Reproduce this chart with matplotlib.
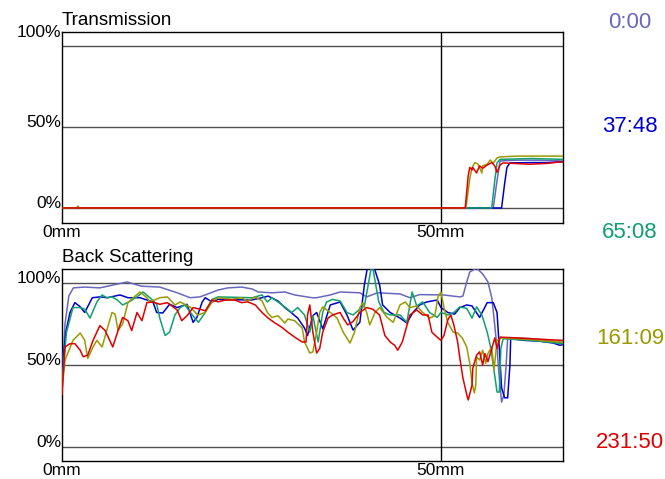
import numpy as np
import matplotlib
matplotlib.use("Agg")
import matplotlib.pyplot as plt

plt.rcParams['font.family'] = ['Liberation Sans', 'DejaVu Sans']

# tiempos de medida y sus colores
etiquetas = ['0:00', '37:48', '65:08', '161:09', '231:50']
colores = ['#6868bc', '#0000cc', '#10a070', '#9a9a00', '#e00000']

# Transmision: posicion (mm) y porcentaje
tr_x_0000 = [0, 56.9, 57.4, 57.8, 60, 63, 66.1]
tr_y_0000 = [0, 0, 17, 29, 29.5, 29.5, 29]
tr_x_3748 = [0, 58.0, 58.4, 58.7, 59.1, 62, 64, 66.1]
tr_y_3748 = [0, 0, 15, 25, 27.8, 28, 28, 28.5]
tr_x_6508 = [0, 56.7, 57.1, 57.4, 57.8, 62, 66.1]
tr_y_6508 = [0, 0, 17, 27.8, 30, 30.5, 30]
tr_x_16109 = [0, 1.9, 2.1, 2.3, 53.3, 53.8, 54.1, 54.5, 54.9, 55.4, 55.5, 56.1,
              56.5, 56.9, 57.4, 57.8, 60, 66.1]
tr_y_16109 = [0, 0, 1.2, 0, 0, 18, 25, 28, 27, 21.6, 26, 27,
              29.6, 27.5, 30.9, 31.5, 32, 32]
tr_x_23150 = [0, 53.2, 53.6, 53.8, 54.1, 54.2, 54.7, 55.1, 55.5, 56.1, 56.7,
              57.1, 57.4, 57.8, 58.2, 61.7, 64, 65.7, 66.1]
tr_y_23150 = [0, 0, 20, 25, 23.5, 25, 21.6, 26, 24.5, 26.5, 28,
              26, 22, 26.5, 27.8, 27, 27.5, 28.4, 28.4]

# Back Scattering: posicion (mm) y porcentaje
bs_x_0000 = [0, 0.4, 0.9, 1.5, 3, 5, 8.6, 10.5, 12.9, 15.2, 16.9, 18.2, 18.9,
             20.6, 21.9, 23.7, 25.1, 25.9, 27.7, 29.4, 30.7, 33, 33.6, 35.4,
             36.7, 39.3, 40.2, 41.6, 44.6, 45.9, 47.2, 50.3, 52.5, 52.9, 53.4,
             53.8, 54.7, 55.5, 56.2, 56.7, 57.0, 57.4, 57.7, 58.0, 58.3, 58.6,
             58.8, 60, 62, 64, 66.1]
bs_y_0000 = [42, 75, 92, 97, 97.5, 97, 100.6, 98, 97.5, 94, 91, 91.5, 92.7,
             95.7, 97, 97.5, 96.3, 94.5, 94, 94.5, 92.7, 91, 91, 92.7,
             94.5, 94, 91.5, 94, 93.3, 91, 92.9, 92.7, 91.5, 92, 100.6,
             106.7, 109, 105.5, 100.6, 91, 78.6, 60, 42, 27.4, 31.7, 50,
             66.5, 66.5, 66, 65, 63.5]

bs_x_3748 = [0, 0.5, 1.06, 1.7, 2.4, 3, 4, 5, 6, 7.65, 8.7, 10.3, 12, 12.5,
             13.3, 14.2, 15.2, 16.5, 17.3, 17.8, 18.5, 18.9, 19.8, 20.6, 25,
             26.4, 27.2, 28.5, 29.4, 30.3, 31.1, 32, 32.4, 33.1, 33.6, 34,
             34.4, 35.4, 36.7, 37.6, 38.4, 39.3, 39.9, 40.4, 41, 41.9, 42.3,
             43.3, 44.6, 45.5, 46.3, 47.2, 48.1, 49.5, 50, 50.9, 51.8, 52.5,
             53.4, 54.1, 55.1, 56.1, 56.9, 57.4, 57.7, 58, 58.4, 58.8, 59.1,
             59.2, 61, 63, 64.8, 65.7, 66.1]
bs_y_3748 = [45, 70, 82, 88, 85.5, 82, 91, 91.5, 91, 92.7, 91, 91, 88.4, 82,
             81.7, 87, 85, 87, 76, 79, 88.4, 91, 88.4, 90, 89.6,
             91, 92, 89, 85, 81.7, 78.6, 72.5, 68, 80, 82, 77,
             72, 86.6, 88.4, 80.5, 71.3, 76, 99, 112, 112, 99, 86.6,
             82, 78.6, 75.6, 82, 86.6, 88.4, 89.6, 85, 82, 81, 85,
             86.6, 86, 79, 88, 88, 82, 60, 36, 30, 30, 50,
             66, 65, 64.5, 63.4, 62, 62.5]

bs_x_6508 = [0, 0.6, 1.45, 2.4, 3, 3.7, 4.6, 5.3, 5.9, 6.6, 7.3, 8, 8.8, 9.9,
             10.7, 11.6, 12.5, 12.9, 13.6, 14.2, 14.9, 15.6, 16.2, 17.2, 18,
             18.9, 19.8, 20.6, 25.1, 26.4, 27.1, 27.7, 28.5, 29.4, 30.3, 31.1,
             32, 32.7, 33.1, 33.8, 34.4, 34.9, 35.7, 36.7, 37.6, 38.4, 39.3,
             39.9, 40.4, 40.9, 41.4, 41.8, 42.5, 43.3, 44.6, 45.5, 46.2, 46.8,
             47.6, 48.5, 49.5, 50, 50.9, 51.7, 52.5, 53.4, 54.1, 54.7, 55.4,
             56.1, 56.5, 56.9, 57.4, 57.7, 57.9, 58.2, 60, 62, 64, 66.1]
bs_y_6508 = [40, 70, 85, 85, 84, 78.6, 88.4, 92.7, 91, 91.5, 89.6, 86.6, 88.4, 91.5,
             94.5, 91, 87, 78.6, 68, 70, 80.5, 85, 86.6, 80.5, 76,
             82, 90, 91.5, 91, 92.7, 88.4, 91, 88.4, 85.4, 82, 85,
             80.5, 70, 80, 64, 82, 88.4, 90, 89, 82, 80.5, 84,
             86, 98.8, 112, 98.8, 88.4, 82, 80.5, 80.5, 76, 94.5, 86,
             88.4, 82, 79, 82, 80.5, 82, 85.4, 84.5, 78.6, 85.4, 80.5,
             70, 62, 50, 33.5, 33.5, 60, 66, 65.5, 65, 64, 63]

bs_x_16109 = [0, 0.4, 1.45, 2.4, 3, 3.4, 4.1, 4.6, 5.3, 5.9, 6.6, 7, 7.4, 8,
              8.7, 9.4, 10.3, 11.2, 11.6, 12.9, 13.9, 14.9, 15.6, 16.2, 17,
              17.9, 18.9, 19.8, 20.6, 22.4, 23.7, 24.5, 25.5, 26.4, 27.1, 27.7,
              28.5, 29.4, 29.8, 30.7, 31.7, 32, 32.7, 33.1, 33.6, 34, 34.4,
              35.4, 36.3, 37.1, 38, 38.6, 39.3, 39.7, 40.2, 40.6, 41.3, 41.9,
              42.9, 43.7, 44.6, 45.3, 45.9, 46.8, 47.6, 48.5, 49.2, 49.6, 50,
              50.4, 50.9, 51.6, 52.2, 52.8, 53.4, 53.8, 54.1, 54.4, 54.6, 54.7,
              55.1, 55.5, 55.9, 56.2, 56.7, 57, 57.4, 58, 60, 62, 64, 66.1]
bs_y_16109 = [35, 53, 65, 69.5, 65, 54, 61, 65, 61, 71, 82, 81, 71, 75,
              88, 91, 94.5, 91, 88.4, 91, 91.5, 86.6, 88.4, 87, 85,
              80.5, 82, 88.4, 91, 90, 91, 89, 91.5, 89, 82, 79,
              80, 75.6, 78, 77, 72.5, 64, 57.3, 58, 70, 82, 85.4,
              82, 78.6, 70, 63.4, 70, 85, 88, 82, 74.4, 82, 85,
              79, 76, 86.6, 88.4, 85, 86, 82, 78.6, 80, 91.5, 94.5,
              85, 76, 70, 69.5, 66.5, 61, 51, 39, 33, 38, 55,
              53, 59, 51, 57, 61, 47, 65, 66.5, 66, 65.5, 64.5, 64]

bs_x_23150 = [0, 0.4, 1.06, 1.7, 2.4, 2.8, 3.4, 4.1, 5, 5.7, 6.3, 6.7, 7.4, 8,
              8.7, 9.2, 9.9, 10.55, 11.2, 12, 12.9, 13.9, 14.5, 15.2, 15.8,
              16.5, 17.3, 18.2, 18.9, 19.8, 20.6, 21.5, 22.8, 23.7, 24.5, 25.5,
              26.4, 27.2, 28.1, 29, 29.8, 30.7, 31.7, 32.2, 32.4, 32.7, 33.1,
              33.6, 34, 34.4, 35.1, 35.7, 36.7, 37.1, 37.7, 38.4, 39.3, 40.2,
              41, 41.9, 42.6, 43.3, 43.9, 44.3, 44.9, 45.9, 46.8, 47.6, 48.3,
              48.8, 49.5, 50, 50.4, 50.9, 51.3, 51.7, 52.2, 52.5, 52.9, 53.4,
              53.6, 54.1, 54.2, 54.7, 55.1, 55.5, 55.8, 56.2, 56.7, 57.1, 57.4,
              57.8, 60, 62, 64, 66.1]
bs_y_23150 = [32, 61, 63, 63, 59, 55, 56, 65, 74, 71, 65, 61, 71, 79,
              77, 71, 82, 77, 88, 88.4, 87, 88, 86, 83.5, 77,
              80, 85, 84, 83, 89.6, 88.5, 89.5, 89.6, 88, 88.5, 86.6,
              82, 78.6, 75.6, 73, 70, 67, 64, 64, 80.5, 86.6, 70,
              57.3, 60, 70, 78.6, 80.5, 82, 78.6, 74.4, 76.5, 82, 85,
              84, 80.5, 68, 64, 62, 59, 64, 80.5, 83.5, 80.5, 80.5,
              70, 67, 65, 68, 77.5, 80.5, 74.4, 64, 54, 42, 32,
              28.7, 37.8, 48, 56, 58, 50, 57, 52, 60, 66.5, 60,
              67, 66.5, 66, 65.5, 65]

tr_x = [tr_x_0000, tr_x_3748, tr_x_6508, tr_x_16109, tr_x_23150]
tr_y = [tr_y_0000, tr_y_3748, tr_y_6508, tr_y_16109, tr_y_23150]
bs_x = [bs_x_0000, bs_x_3748, bs_x_6508, bs_x_16109, bs_x_23150]
bs_y = [bs_y_0000, bs_y_3748, bs_y_6508, bs_y_16109, bs_y_23150]

fig = plt.figure(figsize=(6.65, 4.79), dpi=100)
ax_tr = fig.add_axes([0.0932, 0.5344, 0.7534, 0.3988])
ax_bs = fig.add_axes([0.0932, 0.0376, 0.7534, 0.4008])


def preparar(ax, titulo, ymin, ymax, y_top_label):
    ax.set_xlim(0, 66.1)
    ax.set_ylim(ymin, ymax)
    ax.set_xticks([])
    ax.set_yticks([])
    for s in ax.spines.values():
        s.set_color('black')
        s.set_linewidth(1.0)
    # lineas de referencia
    for v in [0, 50, 100]:
        ax.axhline(v, color='#505050', lw=1.0, zorder=1)
    ax.axvline(50, color='black', lw=1.0, zorder=1)
    # etiquetas de porcentaje
    ax.text(-0.1, y_top_label, '100%', ha='right', va='baseline', fontsize=12.5, clip_on=False)
    ax.text(-0.1, 0, '0%', ha='right', va='baseline', fontsize=12.5, clip_on=False)
    ax.text(-0.1, 50, '50%', ha='right', va='baseline', fontsize=12.5, clip_on=False)
    ax.text(0, ymin - 1.2, '0mm', ha='center', va='top', fontsize=12.5, clip_on=False)
    ax.text(50, ymin - 1.2, '50mm', ha='center', va='top', fontsize=12.5, clip_on=False)
    ax.text(0, ymax + 4.2, titulo, ha='left', va='baseline', fontsize=13.5, clip_on=False)


preparar(ax_tr, 'Transmission', -9.3, 108.6, 105.5)
preparar(ax_bs, 'Back Scattering', -8.5, 108.5, 100)

for i in range(5):
    ax_tr.plot(tr_x[i], tr_y[i], color=colores[i], lw=1.1, zorder=3)
    ax_bs.plot(bs_x[i], bs_y[i], color=colores[i], lw=1.1, zorder=3)

# leyenda de tiempos a la derecha
ys = [22, 127, 232, 338, 443]
for i in range(5):
    fig.text(630 / 665, 1 - ys[i] / 479, etiquetas[i], color=colores[i],
             ha='center', va='center', fontsize=16)

fig.savefig('out.png', dpi=100)
